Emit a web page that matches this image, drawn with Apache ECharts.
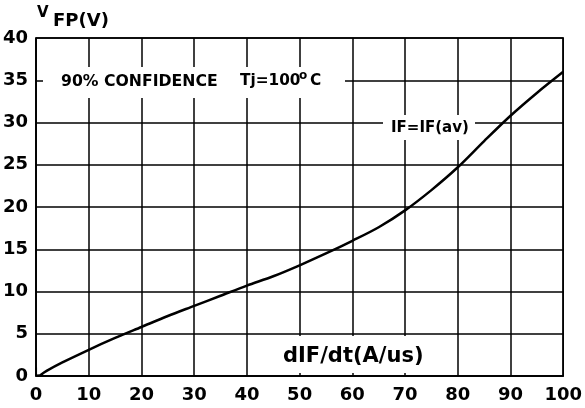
<!DOCTYPE html>
<html><head><meta charset="utf-8">
<script src="https://cdn.jsdelivr.net/npm/echarts@6/dist/echarts.min.js"></script>
<style>html,body{margin:0;padding:0;background:#fff}#c{width:585px;height:408px}</style>
</head><body><div id="c"></div>
<script>
// Data
const curveX = [0.8, 2, 5, 10, 15, 20, 25, 30, 35, 40, 45, 50, 55, 60, 65, 70, 75, 80, 85, 90, 95, 100];
const curveY = [0.1, 0.6, 1.6, 3.1, 4.5, 5.8, 7.1, 8.3, 9.5, 10.7, 11.8, 13.1, 14.5, 16.0, 17.6, 19.6, 22.0, 24.7, 27.8, 30.8, 33.5, 36.0];
const startX = [0, 0, 0.8];
const startY = [1.0, 0.05, 0.1];
const xMin = 0, xMax = 100, xStep = 10;
const yMin = 0, yMax = 40, yStep = 5;

const FONT = '"DejaVu Sans", sans-serif';
const chart = echarts.init(document.getElementById('c'), null, {renderer: 'canvas'});

function pairs(xs, ys) { return xs.map((x, i) => [x, ys[i]]); }

const axisCommon = {
  type: 'value',
  axisLine: {show: true, lineStyle: {color: '#000', width: 1.5}},
  axisTick: {show: false},
  axisLabel: {color: '#000', fontSize: 18, fontWeight: 'bold', fontFamily: FONT},
  splitLine: {show: true, lineStyle: {color: '#000', width: 1.5}}
};

function txt(text, x, y, size, z) {
  return {type: 'text', z: z || 11, style: {text: text, x: x, y: y, fill: '#000',
    font: 'bold ' + size + 'px ' + FONT, textAlign: 'left', textVerticalAlign: 'middle'}};
}
function box(x, y, w, h) {
  return {type: 'rect', z: 10, shape: {x: x, y: y, width: w, height: h}, style: {fill: '#fff'}};
}

chart.setOption({
  animation: false,
  backgroundColor: '#fff',
  grid: {left: 36, right: 21, top: 38, bottom: 32, show: true, borderColor: '#000', borderWidth: 1.5},
  xAxis: Object.assign({}, axisCommon, {min: xMin, max: xMax, interval: xStep,
    axisLabel: Object.assign({}, axisCommon.axisLabel, {margin: 10})}),
  yAxis: Object.assign({}, axisCommon, {min: yMin, max: yMax, interval: yStep,
    axisLabel: Object.assign({}, axisCommon.axisLabel, {margin: 8})}),
  series: [
    {type: 'line', data: pairs(curveX, curveY), smooth: 0.3, symbol: 'none',
     lineStyle: {color: '#000', width: 2.5}, z: 5},
    {type: 'line', data: pairs(startX, startY), smooth: false, symbol: 'none',
     lineStyle: {color: '#000', width: 2}, z: 5}
  ],
  graphic: [
    box(43, 67, 302, 31),
    box(383, 115, 92, 25),
    box(275, 336, 155, 37),
    txt('V', 37, 13.5, 15),
    txt('FP(V)', 53, 21.5, 18),
    txt('90% CONFIDENCE', 61, 81.5, 15.7),
    txt('Tj=100', 240, 81.5, 15.3),
    txt('o', 299, 76, 12),
    txt('C', 310, 81.5, 15.3),
    txt('IF=IF(av)', 391, 128.5, 15),
    txt('dIF/dt(A/us)', 283, 356.5, 21)
  ]
});
</script></body></html>
